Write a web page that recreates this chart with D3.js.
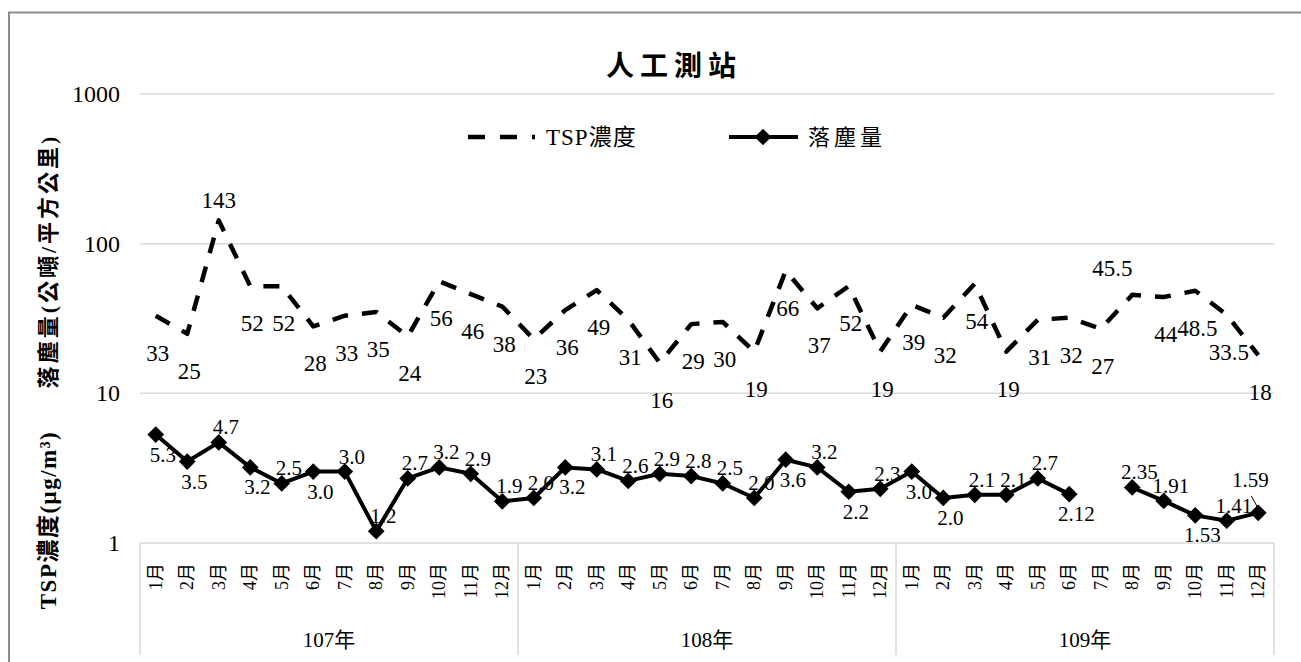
<!DOCTYPE html>
<html>
<head>
<meta charset="utf-8">
<script src="https://cdn.jsdelivr.net/npm/d3@7"></script>
<style>
  body { margin: 0; background: #fff; }
  svg { display: block; }
  text { font-family: 'Liberation Serif', 'Times New Roman', 'Noto Sans CJK TC', serif; fill: #000; }
</style>
</head>
<body>
<div id="chart"></div>
<script>
// categories
var years = ['107年', '108年', '109年'];
var months = ['1月', '2月', '3月', '4月', '5月', '6月', '7月', '8月', '9月', '10月', '11月', '12月'];

// dashed series (legend "TSP濃度")
var tspValues = [
  33, 25, 143, 52, 52, 28, 33, 35, 24, 56, 46, 38,
  23, 36, 49, 31, 16, 29, 30, 19, 66, 37, 52, 19,
  39, 32, 54, 19, 31, 32, 27, 45.5, 44, 48.5, 33.5, 18
];

// solid series with diamonds (legend "落塵量"), 109年7月 missing
var dustValues = [
  5.3, 3.5, 4.7, 3.2, 2.5, 3.0, 3.0, 1.2, 2.7, 3.2, 2.9, 1.9,
  2.0, 3.2, 3.1, 2.6, 2.9, 2.8, 2.5, 2.0, 3.6, 3.2, 2.2, 2.3,
  3.0, 2.0, 2.1, 2.1, 2.7, 2.12, null, 2.35, 1.91, 1.53, 1.41, 1.59
];

// where the data labels sit (b = below, a = above, al / h = moved by hand)
var tspLabelPos = [
  'b', 'b', 'a', 'b', 'b', 'b', 'b', 'b', 'b', 'b', 'b', 'b',
  'b', 'b', 'b', 'b', 'b', 'b', 'b', 'b', 'b', 'b', 'b', 'b',
  'b', 'b', 'b', 'b', 'b', 'b', 'b', 'al', 'b', 'b', 'b', 'b'
];
var dustLabelPos = [
  'b', 'b', 'a', 'b', 'a', 'b', 'a', 'a', 'a', 'a', 'a', 'a',
  'a', 'b', 'a', 'a', 'a', 'a', 'a', 'a', 'b', 'a', 'b', 'a',
  'b', 'b', 'a', 'a', 'a', 'b', '', 'a', 'a', 'b', 'a', 'h'
];

var yTicks = [1, 10, 100, 1000];

var W = 1301, H = 662;
var plot = { left: 140, right: 1274, top: 94, bottom: 543 };

var svg = d3.select('#chart').append('svg')
  .attr('width', W)
  .attr('height', H);

// outer chart border (runs off the picture on the right and bottom)
svg.append('rect')
  .attr('x', 9).attr('y', 12.5)
  .attr('width', 1400).attr('height', 800)
  .attr('fill', 'none')
  .attr('stroke', '#8c8c8c')
  .attr('stroke-width', 2);

// keys for every month
var keys = [];
years.forEach(function (yr) {
  months.forEach(function (m) { keys.push(yr + m); });
});

var x = d3.scaleBand().domain(keys).range([plot.left, plot.right]);
var y = d3.scaleLog().domain([1, 1000]).range([plot.bottom, plot.top]);
var cx = function (i) { return x(keys[i]) + x.bandwidth() / 2; };

// gridlines
svg.append('g')
  .selectAll('line')
  .data(yTicks)
  .enter().append('line')
    .attr('x1', plot.left).attr('x2', plot.right)
    .attr('y1', function (d) { return y(d); })
    .attr('y2', function (d) { return y(d); })
    .attr('stroke', '#d9d9d9')
    .attr('stroke-width', 1.5);

// y tick labels
svg.append('g')
  .selectAll('text')
  .data(yTicks)
  .enter().append('text')
    .attr('x', 120)
    .attr('y', function (d) { return y(d) + 8; })
    .attr('text-anchor', 'end')
    .style('font-size', '24px')
    .text(function (d) { return d; });

// category axis: group separators
var groupEdges = years.map(function (yr) { return x(yr + months[0]); }).concat([plot.right]);
svg.append('g')
  .selectAll('line')
  .data(groupEdges)
  .enter().append('line')
    .attr('x1', function (d) { return d; })
    .attr('x2', function (d) { return d; })
    .attr('y1', plot.bottom).attr('y2', 655)
    .attr('stroke', '#d9d9d9')
    .attr('stroke-width', 1.5);

// month labels, rotated
svg.append('g')
  .selectAll('text')
  .data(keys)
  .enter().append('text')
    .attr('transform', function (d, i) { return 'translate(' + cx(i) + ',563) rotate(-90)'; })
    .attr('text-anchor', 'end')
    .attr('dominant-baseline', 'central')
    .style('font-size', '18px')
    .text(function (d, i) { return months[i % 12]; });

// year labels
svg.append('g')
  .selectAll('text')
  .data(years)
  .enter().append('text')
    .attr('x', function (d, i) { return (groupEdges[i] + groupEdges[i + 1]) / 2; })
    .attr('y', 647)
    .attr('text-anchor', 'middle')
    .style('font-size', '21px')
    .text(function (d) { return d; });

// title
svg.append('text')
  .attr('x', 674).attr('y', 76)
  .attr('text-anchor', 'middle')
  .style('font-family', "'Noto Sans CJK TC', sans-serif")
  .style('font-weight', 'bold')
  .style('font-size', '28px')
  .style('letter-spacing', '6px')
  .text('人工測站');

// y axis titles
svg.append('text')
  .attr('transform', 'translate(56,261) rotate(-90)')
  .attr('text-anchor', 'middle')
  .style('font-weight', 'bold')
  .style('font-size', '22px')
  .style('letter-spacing', '3px')
  .text('落塵量(公噸/平方公里)');

svg.append('text')
  .attr('transform', 'translate(56,520) rotate(-90)')
  .attr('text-anchor', 'middle')
  .style('font-weight', 'bold')
  .style('font-size', '23px')
  .style('letter-spacing', '1.5px')
  .text('TSP濃度(μg/m³)');

// lines
var tspLine = d3.line()
  .x(function (d, i) { return cx(i); })
  .y(function (d) { return y(d); });

var dustLine = d3.line()
  .defined(function (d) { return d !== null; })
  .x(function (d, i) { return cx(i); })
  .y(function (d) { return y(d); });

svg.append('path')
  .datum(tspValues)
  .attr('d', tspLine)
  .attr('fill', 'none')
  .attr('stroke', '#000')
  .attr('stroke-width', 4.5)
  .attr('stroke-dasharray', '16,14')
  .attr('stroke-linejoin', 'round');

svg.append('path')
  .datum(dustValues)
  .attr('d', dustLine)
  .attr('fill', 'none')
  .attr('stroke', '#000')
  .attr('stroke-width', 4)
  .attr('stroke-linejoin', 'round');

var diamond = d3.symbol().type(d3.symbolSquare).size(140);

svg.append('g')
  .selectAll('path')
  .data(dustValues.map(function (v, i) { return { v: v, i: i }; }).filter(function (d) { return d.v !== null; }))
  .enter().append('path')
    .attr('d', diamond)
    .attr('transform', function (d) { return 'translate(' + cx(d.i) + ',' + y(d.v) + ') rotate(45)'; })
    .attr('fill', '#000');

// data labels
var tspOffset = { b: [2, 45], a: [0, -12], al: [-20, -19] };
var dustOffset = { b: [7, 27], a: [7, -8], h: [-8, -26] };

svg.append('g')
  .selectAll('text')
  .data(tspValues)
  .enter().append('text')
    .attr('x', function (d, i) { return cx(i) + tspOffset[tspLabelPos[i]][0]; })
    .attr('y', function (d, i) { return y(d) + tspOffset[tspLabelPos[i]][1]; })
    .attr('text-anchor', 'middle')
    .style('font-size', '23px')
    .text(function (d) { return String(d); });

var fmtDust = function (v) {
  return Math.abs(v * 10 - Math.round(v * 10)) < 1e-6 ? v.toFixed(1) : v.toFixed(2);
};

var dustLabels = dustValues.map(function (v, i) { return { v: v, i: i }; })
  .filter(function (d) { return d.v !== null; });

svg.append('g')
  .selectAll('text')
  .data(dustLabels)
  .enter().append('text')
    .attr('x', function (d) { return cx(d.i) + dustOffset[dustLabelPos[d.i]][0]; })
    .attr('y', function (d) { return y(d.v) + dustOffset[dustLabelPos[d.i]][1]; })
    .attr('text-anchor', 'middle')
    .style('font-size', '21px')
    .text(function (d) { return fmtDust(d.v); });

// leader line for the label moved by hand
dustLabels.filter(function (d) { return dustLabelPos[d.i] === 'h'; }).forEach(function (d) {
  svg.append('line')
    .attr('x1', cx(d.i) - 7).attr('y1', y(d.v) - 17)
    .attr('x2', cx(d.i) - 1).attr('y2', y(d.v) - 6)
    .attr('stroke', '#000')
    .attr('stroke-width', 1);
});

// legend
var legend = svg.append('g');
legend.append('line')
  .attr('x1', 468).attr('x2', 535)
  .attr('y1', 137).attr('y2', 137)
  .attr('stroke', '#000')
  .attr('stroke-width', 4.5)
  .attr('stroke-dasharray', '17,15');
legend.append('text')
  .attr('x', 546).attr('y', 145)
  .style('font-size', '23px')
  .style('letter-spacing', '1px')
  .text('TSP濃度');

legend.append('line')
  .attr('x1', 729).attr('x2', 798)
  .attr('y1', 137).attr('y2', 137)
  .attr('stroke', '#000')
  .attr('stroke-width', 4);
legend.append('path')
  .attr('d', diamond)
  .attr('transform', 'translate(763,137) rotate(45)')
  .attr('fill', '#000');
legend.append('text')
  .attr('x', 808).attr('y', 145)
  .style('font-size', '22px')
  .style('letter-spacing', '4px')
  .text('落塵量');
</script>
</body>
</html>
